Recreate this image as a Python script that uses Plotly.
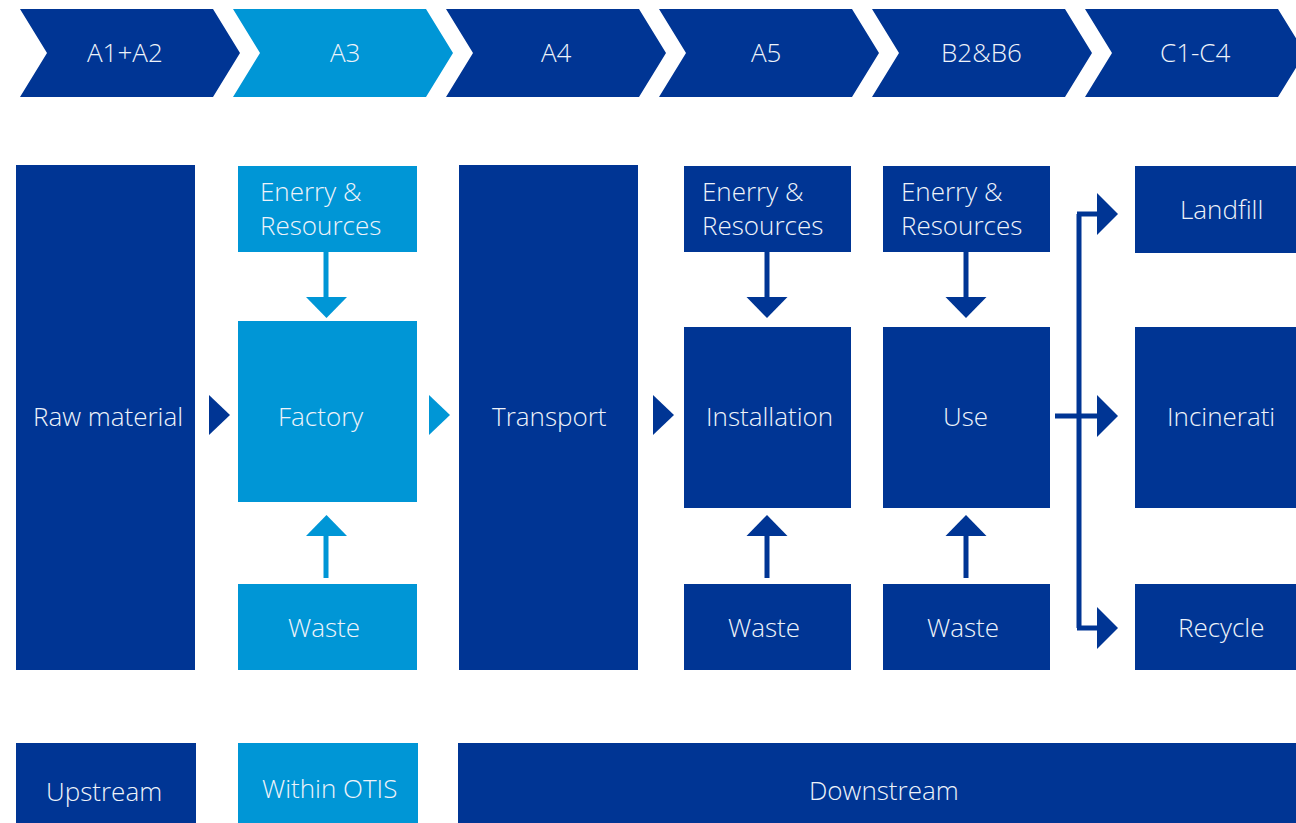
import plotly.graph_objects as go

# ---------------- content ----------------
stage_labels = ["A1+A2", "A3", "A4", "A5", "B2&B6", "C1-C4"]
stage_is_light = [False, True, False, False, False, False]

main_labels = ["Raw material", "Factory", "Transport", "Installation", "Use", "Incinerati"]
input_labels = ["Enerry &<br>Resources", "Enerry &<br>Resources", "Enerry &<br>Resources"]
waste_labels = ["Waste", "Waste", "Waste"]
end_labels = ["Landfill", "Incinerati", "Recycle"]
scope_labels = ["Upstream", "Within OTIS", "Downstream"]

# ---------------- styles ----------------
DARK = "#003594"
LIGHT = "#0096D6"
TXT = "#eef3fa"
FONT = "Open Sans"
FS = 26

W, H = 1296, 823
shapes = []
annos = []


def rect(x0, y0, x1, y1, color):
    shapes.append(dict(type="rect", xref="x", yref="y", x0=x0, y0=y0, x1=x1, y1=y1,
                       fillcolor=color, line=dict(width=0), layer="below"))


def poly(pts, color):
    d = "M " + " L ".join(f"{x},{y}" for x, y in pts) + " Z"
    shapes.append(dict(type="path", xref="x", yref="y", path=d, fillcolor=color,
                       line=dict(width=0), layer="below"))


def line(x0, y0, x1, y1, color, w=5):
    shapes.append(dict(type="line", xref="x", yref="y", x0=x0, y0=y0, x1=x1, y1=y1,
                       line=dict(color=color, width=w), layer="below"))


def text(x, y, s, xanchor="center", align="center"):
    annos.append(dict(x=x, y=y, xref="x", yref="y", text=s, showarrow=False,
                      xanchor=xanchor, yanchor="middle", align=align,
                      font=dict(family=FONT, size=FS, color=TXT, weight=300)))


# ---------------- chevrons ----------------
chev_left = [20, 233, 446, 659, 872, 1085]
chev_text_x = [125, 345, 556, 766, 981, 1195]
for lbl, light, L, tx in zip(stage_labels, stage_is_light, chev_left, chev_text_x):
    col = LIGHT if light else DARK
    poly([(L, 9), (L + 193, 9), (L + 220, 53), (L + 193, 97), (L, 97), (L + 27, 53)], col)
    text(tx, 52, lbl)

# ---------------- column 1: raw material ----------------
rect(16, 165, 195, 670, DARK)
text(108, 416, main_labels[0])

# ---------------- column 2: factory (light) ----------------
rect(238, 166, 417, 252, LIGHT)
text(258, 208, input_labels[0], xanchor="left", align="left")
rect(238, 321, 417, 502, LIGHT)
text(320, 416, main_labels[1])
rect(238, 584, 417, 670, LIGHT)
text(324, 627, waste_labels[0])
line(326, 252, 326, 299, LIGHT)
poly([(306, 297), (347, 297), (326.5, 318)], LIGHT)
line(326, 578, 326, 534, LIGHT)
poly([(306, 536), (347, 536), (326.5, 515)], LIGHT)

# ---------------- column 3: transport ----------------
rect(459, 165, 638, 670, DARK)
text(549, 416, main_labels[2])

# ---------------- columns 4,5: installation / use ----------------
for i, (x0, x1, tx, cx) in enumerate([(684, 851, 700, 767), (883, 1050, 899, 966)]):
    rect(x0, 166, x1, 252, DARK)
    text(tx, 208, input_labels[i + 1], xanchor="left", align="left")
    rect(x0, 327, x1, 508, DARK)
    text(cx + 2 if i == 0 else cx - 1, 416, main_labels[3 + i])
    rect(x0, 584, x1, 670, DARK)
    text(cx - 3, 627, waste_labels[i + 1])
    line(cx, 252, cx, 299, DARK)
    poly([(cx - 20.5, 297), (cx + 20.5, 297), (cx, 318)], DARK)
    line(cx, 578, cx, 534, DARK)
    poly([(cx - 20.5, 536), (cx + 20.5, 536), (cx, 515)], DARK)

# ---------------- small right triangles ----------------
poly([(209, 395), (230, 415), (209, 435)], DARK)
poly([(429, 395), (450, 415), (429, 435)], LIGHT)
poly([(653, 395), (674, 415), (653, 435)], DARK)

# ---------------- end-of-life boxes & branching arrow ----------------
end_y = [(166, 253, 209), (327, 508, 416), (584, 670, 627)]
for lbl, (y0, y1, ty) in zip(end_labels, end_y):
    rect(1135, y0, 1310, y1, DARK)
    text(1221, ty, lbl)

line(1079, 214, 1079, 628, DARK)
for yy in [214, 628]:
    line(1077, yy, 1100, yy, DARK)
line(1055, 416, 1100, 416, DARK)
for yy in [214, 416, 628]:
    poly([(1097, yy - 21), (1118, yy), (1097, yy + 21)], DARK)

# ---------------- scope bar ----------------
rect(16, 743, 196, 830, DARK)
text(104, 791, scope_labels[0])
rect(238, 743, 418, 830, LIGHT)
text(329, 788, scope_labels[1])
rect(458, 743, 1310, 830, DARK)
text(884, 790, scope_labels[2])

# ---------------- figure ----------------
fig = go.Figure()
fig.add_trace(go.Scatter(x=[0, W], y=[0, H], mode="markers",
                         marker=dict(opacity=0), hoverinfo="skip", showlegend=False))
fig.update_layout(
    width=W, height=H,
    margin=dict(l=0, r=0, t=0, b=0),
    paper_bgcolor="white", plot_bgcolor="white",
    xaxis=dict(range=[0, W], visible=False, fixedrange=True),
    yaxis=dict(range=[H, 0], visible=False, fixedrange=True),
    shapes=shapes, annotations=annos, showlegend=False,
)
fig.write_html("out.html", config={"displayModeBar": False},
               post_script="document.body.style.margin='0';document.documentElement.style.overflow='hidden';")
